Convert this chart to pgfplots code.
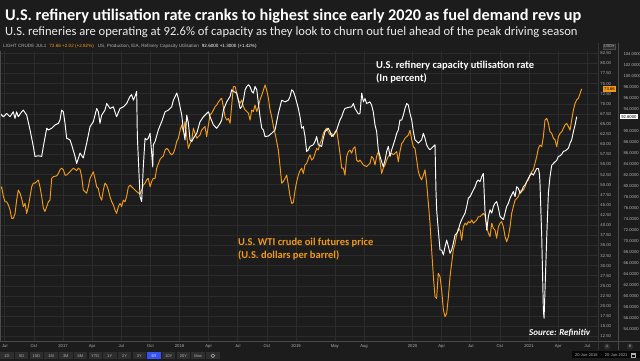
\documentclass[border=0pt]{standalone}
\usepackage{pgfplots}
\pgfplotsset{compat=1.18}
\usepackage{pgfplotstable}
\usepackage{fontspec}
\setmainfont{Carlito}
\newfontfamily\tickfont{Liberation Sans}
\newfontfamily\symfont{DejaVu Sans}
\definecolor{bg}{HTML}{1C1C1C}
\definecolor{gridc}{HTML}{2B2B2B}
\definecolor{oil}{HTML}{F39A1B}
\definecolor{ticktext}{HTML}{B0B0B0}
\definecolor{btn}{HTML}{2E2E2E}
\definecolor{btnblue}{HTML}{3552F2}
\definecolor{sep}{HTML}{4A4A4A}

\pgfplotstableread{
year price
2016.459 48.7
2016.473 49.5
2016.488 47.1
2016.502 45.8
2016.516 45.8
2016.531 45.0
2016.545 43.8
2016.559 41.7
2016.573 41.7
2016.588 42.9
2016.602 46.2
2016.616 48.7
2016.631 47.9
2016.645 46.6
2016.659 44.6
2016.674 45.4
2016.688 42.9
2016.702 44.6
2016.717 47.1
2016.731 49.5
2016.745 50.4
2016.759 50.4
2016.774 50.8
2016.788 51.2
2016.802 49.5
2016.817 47.1
2016.831 44.2
2016.845 43.4
2016.860 44.6
2016.874 45.8
2016.888 46.2
2016.903 51.6
2016.917 52.0
2016.945 52.2
2016.960 52.8
2016.974 53.7
2016.988 54.1
2017.003 53.7
2017.017 52.4
2017.031 52.4
2017.060 53.2
2017.074 53.7
2017.088 54.1
2017.103 53.8
2017.117 53.5
2017.131 54.1
2017.146 53.8
2017.160 52.0
2017.174 48.7
2017.189 48.3
2017.203 47.9
2017.217 49.5
2017.232 51.6
2017.246 52.4
2017.260 53.2
2017.274 51.6
2017.289 49.5
2017.303 49.1
2017.317 47.1
2017.332 46.2
2017.346 48.7
2017.360 50.4
2017.375 49.9
2017.389 48.7
2017.403 47.1
2017.418 45.8
2017.432 45.0
2017.446 43.8
2017.460 42.9
2017.475 44.6
2017.489 45.4
2017.503 44.6
2017.518 46.2
2017.532 45.8
2017.546 47.1
2017.561 49.5
2017.575 49.9
2017.589 49.5
2017.604 49.1
2017.632 48.3
2017.661 47.7
2017.675 48.7
2017.689 49.9
2017.704 50.4
2017.718 51.2
2017.732 51.6
2017.747 49.5
2017.761 50.8
2017.775 51.6
2017.790 51.6
2017.804 54.1
2017.833 56.3
2017.847 56.8
2017.861 57.1
2017.876 58.6
2017.890 59.0
2017.904 58.6
2017.919 57.8
2017.933 57.4
2017.947 57.8
2017.962 59.0
2017.976 60.7
2017.990 61.5
2018.005 63.5
2018.019 64.8
2018.033 63.1
2018.047 65.6
2018.062 61.9
2018.076 59.0
2018.090 60.2
2018.105 61.1
2018.119 64.0
2018.133 62.7
2018.148 61.5
2018.162 61.9
2018.176 62.3
2018.190 63.5
2018.205 64.0
2018.219 64.4
2018.233 61.9
2018.248 64.8
2018.262 67.3
2018.276 67.7
2018.291 68.5
2018.305 69.3
2018.319 69.7
2018.334 70.5
2018.348 71.0
2018.362 71.4
2018.376 69.3
2018.391 66.8
2018.405 66.0
2018.419 66.4
2018.434 65.2
2018.448 69.7
2018.462 74.3
2018.477 74.3
2018.491 72.6
2018.505 71.0
2018.520 70.1
2018.534 71.0
2018.548 69.3
2018.563 68.5
2018.577 68.1
2018.591 67.7
2018.605 66.0
2018.620 68.5
2018.634 68.1
2018.648 69.7
2018.663 68.1
2018.677 69.3
2018.691 71.0
2018.706 72.2
2018.720 73.4
2018.734 74.7
2018.748 73.4
2018.763 71.4
2018.777 68.5
2018.791 66.8
2018.806 64.4
2018.820 62.7
2018.834 60.7
2018.848 58.6
2018.863 54.5
2018.877 50.4
2018.891 50.8
2018.906 51.6
2018.920 52.4
2018.934 49.9
2018.949 47.1
2018.963 45.4
2018.977 45.6
2018.992 48.7
2019.006 50.8
2019.020 52.4
2019.034 53.5
2019.048 54.1
2019.063 52.8
2019.077 54.9
2019.091 55.3
2019.106 56.5
2019.120 57.4
2019.134 56.1
2019.148 56.5
2019.163 57.8
2019.177 59.0
2019.191 58.6
2019.206 60.2
2019.220 61.1
2019.234 62.7
2019.249 63.5
2019.263 64.0
2019.277 63.1
2019.292 62.3
2019.306 62.7
2019.320 61.9
2019.334 63.1
2019.349 63.5
2019.363 60.7
2019.377 57.8
2019.392 54.1
2019.406 54.1
2019.420 52.4
2019.435 57.0
2019.449 58.2
2019.463 58.6
2019.477 57.8
2019.492 59.0
2019.506 59.4
2019.520 56.1
2019.535 55.7
2019.549 56.1
2019.578 54.9
2019.606 54.5
2019.620 54.9
2019.635 55.3
2019.649 57.0
2019.663 56.5
2019.678 54.9
2019.692 57.0
2019.706 58.2
2019.721 55.7
2019.735 52.8
2019.749 54.1
2019.764 54.9
2019.778 56.1
2019.792 57.0
2019.807 57.4
2019.821 57.8
2019.835 57.4
2019.849 57.8
2019.864 58.2
2019.878 55.7
2019.892 58.2
2019.907 60.2
2019.921 60.7
2019.935 61.5
2019.950 61.9
2019.964 62.3
2019.978 63.5
2019.993 61.1
2020.007 59.4
2020.021 59.0
2020.036 56.1
2020.050 53.2
2020.064 52.0
2020.078 51.2
2020.093 52.4
2020.107 53.7
2020.121 50.4
2020.136 45.4
2020.150 40.5
2020.164 33.9
2020.179 27.3
2020.193 22.3
2020.207 21.9
2020.221 28.1
2020.236 27.3
2020.250 24.0
2020.265 19.0
2020.279 17.4
2020.293 18.2
2020.308 22.3
2020.322 27.3
2020.336 30.6
2020.350 33.9
2020.365 35.5
2020.379 37.6
2020.393 39.2
2020.408 38.8
2020.422 36.3
2020.436 39.6
2020.451 40.5
2020.465 40.1
2020.479 40.9
2020.494 40.6
2020.508 41.3
2020.522 40.5
2020.537 40.9
2020.551 41.3
2020.565 42.1
2020.579 42.1
2020.594 42.5
2020.608 42.9
2020.622 42.5
2020.637 39.6
2020.651 38.0
2020.665 37.2
2020.680 40.5
2020.694 39.2
2020.708 38.8
2020.722 36.8
2020.737 39.6
2020.751 40.5
2020.765 40.9
2020.780 39.6
2020.794 37.2
2020.808 35.9
2020.823 37.2
2020.837 39.6
2020.851 42.9
2020.865 44.6
2020.880 46.2
2020.894 46.6
2020.908 47.1
2020.923 48.3
2020.937 48.7
2020.951 48.7
2020.966 49.5
2020.980 50.8
2020.994 51.2
2021.009 52.4
2021.023 53.2
2021.037 53.7
2021.051 55.3
2021.066 57.0
2021.080 59.0
2021.094 59.8
2021.109 59.4
2021.123 61.9
2021.137 66.0
2021.152 66.4
2021.166 65.2
2021.180 63.1
2021.195 62.7
2021.209 61.5
2021.223 61.1
2021.238 59.4
2021.252 61.9
2021.266 62.7
2021.281 63.1
2021.295 64.0
2021.309 64.8
2021.323 65.2
2021.338 64.4
2021.352 63.5
2021.366 66.0
2021.381 68.5
2021.395 70.1
2021.409 71.0
2021.424 71.4
2021.438 72.6
2021.452 73.7
}\oiltable

\pgfplotstableread{
year util
2016.459 93.2
2016.488 92.6
2016.516 93.2
2016.545 92.6
2016.573 93.5
2016.588 92.3
2016.602 93.5
2016.616 92.6
2016.645 93.5
2016.659 93.8
2016.688 92.9
2016.717 90.2
2016.745 87.2
2016.759 85.4
2016.788 85.5
2016.817 85.4
2016.831 87.2
2016.860 90.5
2016.874 90.2
2016.903 90.5
2016.931 91.1
2016.960 91.4
2016.974 92.0
2016.988 93.8
2017.003 93.5
2017.017 91.4
2017.031 88.7
2017.060 88.4
2017.074 87.5
2017.103 85.4
2017.117 84.1
2017.146 86.0
2017.174 85.1
2017.203 87.8
2017.232 90.8
2017.260 91.7
2017.289 94.1
2017.303 93.5
2017.317 91.4
2017.332 92.9
2017.360 93.8
2017.375 95.0
2017.403 94.1
2017.432 94.4
2017.460 92.6
2017.489 94.1
2017.518 94.4
2017.546 95.0
2017.575 96.3
2017.589 96.6
2017.604 95.6
2017.618 96.3
2017.632 97.2
2017.638 89.0
2017.661 78.1
2017.675 77.2
2017.689 83.5
2017.704 88.7
2017.718 88.4
2017.732 88.7
2017.747 89.6
2017.761 86.0
2017.770 83.5
2017.775 87.5
2017.790 88.1
2017.818 90.2
2017.833 91.0
2017.847 91.7
2017.876 93.5
2017.904 93.8
2017.933 94.4
2017.947 95.6
2017.976 96.9
2017.990 95.9
2018.019 92.9
2018.033 90.2
2018.047 88.4
2018.062 92.9
2018.076 91.4
2018.090 88.4
2018.105 88.1
2018.119 88.7
2018.148 89.6
2018.176 91.7
2018.205 92.6
2018.233 93.2
2018.248 93.5
2018.262 92.6
2018.291 91.1
2018.319 90.5
2018.348 91.4
2018.362 92.0
2018.376 93.8
2018.405 95.3
2018.434 96.3
2018.448 97.5
2018.462 97.2
2018.491 96.9
2018.505 95.6
2018.520 94.1
2018.534 94.4
2018.548 95.6
2018.563 97.5
2018.577 98.1
2018.591 98.4
2018.605 98.1
2018.620 97.2
2018.634 96.9
2018.648 98.1
2018.663 97.5
2018.677 95.0
2018.691 92.6
2018.706 90.5
2018.720 90.2
2018.734 89.0
2018.763 89.1
2018.791 89.6
2018.820 90.2
2018.848 93.2
2018.877 95.6
2018.906 95.3
2018.934 95.6
2018.949 96.3
2018.963 97.5
2018.977 97.2
2018.992 96.3
2019.020 94.1
2019.034 92.6
2019.048 90.5
2019.063 90.8
2019.077 89.0
2019.091 86.3
2019.106 86.6
2019.120 87.2
2019.148 87.5
2019.163 88.1
2019.177 89.0
2019.191 87.5
2019.220 87.2
2019.234 88.7
2019.249 89.9
2019.277 90.5
2019.292 89.9
2019.306 89.0
2019.334 89.6
2019.349 90.2
2019.363 91.1
2019.377 92.0
2019.392 92.6
2019.406 93.5
2019.420 94.1
2019.449 94.3
2019.477 94.4
2019.492 95.0
2019.506 94.1
2019.535 93.1
2019.549 93.2
2019.564 96.9
2019.578 95.3
2019.592 95.9
2019.606 95.0
2019.635 95.3
2019.649 94.7
2019.663 93.5
2019.678 91.1
2019.692 89.9
2019.706 86.6
2019.721 85.4
2019.735 84.4
2019.749 83.5
2019.764 84.7
2019.778 86.3
2019.792 87.2
2019.807 85.4
2019.821 86.6
2019.835 87.5
2019.849 88.4
2019.864 89.6
2019.878 90.2
2019.892 92.0
2019.907 92.0
2019.921 92.9
2019.935 94.1
2019.950 95.0
2019.964 94.7
2019.978 93.2
2019.993 92.0
2020.007 89.9
2020.021 88.4
2020.036 88.1
2020.050 87.8
2020.064 88.1
2020.078 88.4
2020.093 89.6
2020.107 88.7
2020.121 87.5
2020.136 86.9
2020.150 86.6
2020.164 86.9
2020.179 87.2
2020.193 87.5
2020.201 79.3
2020.207 75.7
2020.221 72.0
2020.236 68.4
2020.250 68.4
2020.265 67.5
2020.279 69.0
2020.293 70.2
2020.308 69.0
2020.322 67.8
2020.336 68.4
2020.350 69.6
2020.365 71.1
2020.379 71.4
2020.393 72.0
2020.408 73.2
2020.422 73.9
2020.436 74.5
2020.451 75.1
2020.465 76.3
2020.479 77.8
2020.494 78.1
2020.508 78.7
2020.522 79.3
2020.537 79.9
2020.551 80.8
2020.565 81.1
2020.579 80.8
2020.594 81.7
2020.608 82.3
2020.622 75.4
2020.637 72.0
2020.651 74.5
2020.665 75.7
2020.680 75.1
2020.694 76.3
2020.708 76.9
2020.722 77.2
2020.737 76.0
2020.751 74.5
2020.765 74.2
2020.780 73.9
2020.794 75.1
2020.808 76.3
2020.823 76.9
2020.837 77.8
2020.851 78.4
2020.865 79.0
2020.880 78.1
2020.894 79.9
2020.908 79.6
2020.923 78.7
2020.937 79.0
2020.951 79.9
2020.966 80.2
2020.980 80.8
2020.994 81.4
2021.009 82.0
2021.023 82.3
2021.037 82.0
2021.051 82.6
2021.066 83.2
2021.080 83.2
2021.089 82.3
2021.094 80.5
2021.109 70.8
2021.123 57.5
2021.129 56.0
2021.137 61.1
2021.152 70.8
2021.166 78.7
2021.180 81.7
2021.195 83.8
2021.209 84.1
2021.223 84.4
2021.238 84.7
2021.252 85.4
2021.266 85.5
2021.281 85.8
2021.295 86.3
2021.309 86.4
2021.323 86.6
2021.338 86.9
2021.352 87.8
2021.366 88.4
2021.381 89.9
2021.395 91.1
2021.409 92.6
}\utiltable

\pgfplotsset{
  basex/.style={
    at={(0pt,20pt)}, anchor=south west, scale only axis,
    width=598pt, height=290pt,
    xmin=2016.459, xmax=2021.592,
    axis line style={draw=none},
    major tick length=0pt,
    scaled y ticks=false,
    /pgf/number format/assume math mode=true,
    tick label style={font=\tickfont\fontsize{4.2}{5}\selectfont, text=ticktext},
  }
}

\begin{document}
\begin{tikzpicture}[x=1pt,y=1pt]
\fill[bg] (0pt,0pt) rectangle (640pt,361pt);
\useasboundingbox (0pt,0pt) rectangle (640pt,361pt);

% price axis (scale drawn in the first right-hand column)
\begin{axis}[basex,
  ymin=11.38, ymax=83.07,
  xtick={2016.5,2016.75,2017,2017.25,2017.5,2017.75,2018,2018.25,2018.5,2018.75,2019,2019.3333,2019.5833,2020,2020.25,2020.5,2020.75,2021,2021.25,2021.5},
  xticklabels={Jul,Oct,2017,Apr,Jul,Oct,2018,Apr,Jul,Oct,2019,May,Aug,2020,Apr,Jul,Oct,2021,Apr,Jul},
  ytick distance=2.5,
  yticklabel pos=right,
  grid=major, grid style={draw=gridc, line width=0.6pt},
  xticklabel style={anchor=center, yshift=-5.5pt},
  yticklabel style={anchor=east, xshift=16.5pt,
    /pgf/number format/fixed, /pgf/number format/fixed zerofill, /pgf/number format/precision=2},
]
\addplot[oil, line width=0.95pt, line join=round] table[x=year,y=price] {\oiltable};
\end{axis}

% utilisation axis
\begin{axis}[basex,
  ymin=51.87, ymax=104.54,
  xtick=\empty,
  ytick={54,56,58,60,62,64,66,68,70,72,74,76,78,80,82,84,86,88,90,94,96,98,100,102,104},
  yticklabel pos=right,
  yticklabel style={anchor=west, xshift=22pt,
    /pgf/number format/fixed, /pgf/number format/fixed zerofill, /pgf/number format/precision=4},
]
\addplot[white, line width=0.95pt, line join=round] table[x=year,y=util] {\utiltable};
\end{axis}

% frame lines
\draw[sep, line width=0.6pt] (0pt,20pt) -- (640pt,20pt);
\draw[sep, line width=0.6pt] (0.5pt,20pt) -- (0.5pt,310pt);
\draw[gridc!70!sep, line width=0.6pt] (598.5pt,11pt) -- (598.5pt,318pt);
\draw[sep, line width=0.6pt] (618.5pt,11pt) -- (618.5pt,318pt);

% value boxes
\node[fill=oil, text=black, font=\tickfont\fontsize{4.2}{5}\selectfont, inner sep=1.1pt, minimum height=6pt, anchor=east] at (616pt,272pt) {73.66};
\node[fill=white, text=black, font=\tickfont\fontsize{4.2}{5}\selectfont, inner sep=1.1pt, minimum height=5.5pt, anchor=west] at (620pt,244.3pt) {92.6000};

% titles
\node[anchor=base west, inner sep=0, text=white, font=\fontsize{16.3}{18}\selectfont\bfseries] at (5pt,340.3pt) {U.S. refinery utilisation rate cranks to highest since early 2020 as fuel demand revs up};
\node[anchor=base west, inner sep=0, text=white!92!black, font=\fontsize{12.6}{14}\selectfont] at (5pt,325.3pt) {U.S. refineries are operating at 92.6\% of capacity as they look to churn out fuel ahead of the peak driving season};

% info line
\node[anchor=base west, inner sep=0, font=\tickfont\fontsize{4.6}{5}\selectfont] at (3pt,313.3pt) {\textcolor{ticktext}{LIGHT CRUDE JUL1}\hspace{3pt}\textcolor{oil}{73.66 +2.02 (+2.82\%)}\hspace{4pt}\textcolor{ticktext}{US, Production, EIA, Refinery Capacity Utilisation}\hspace{3pt}\textcolor{white}{92.6000 +1.3000 (+1.42\%)}};
\node[draw=sep, fill=btn, text=ticktext, font=\tickfont\fontsize{4}{5}\selectfont, inner sep=1pt] at (609pt,314.5pt) {USD{\symfont\fontsize{3.5}{4}\selectfont ▾}};

% annotations
\node[anchor=base west, inner sep=0, text=white, font=\fontsize{10.5}{12}\selectfont\bfseries] at (376pt,292pt) {U.S. refinery capacity utilisation rate};
\node[anchor=base west, inner sep=0, text=white, font=\fontsize{10.5}{12}\selectfont\bfseries] at (376pt,279pt) {(In percent)};
\node[anchor=base west, inner sep=0, text=oil, font=\fontsize{10.5}{12}\selectfont\bfseries] at (238pt,115.5pt) {U.S. WTI crude oil futures price};
\node[anchor=base west, inner sep=0, text=oil, font=\fontsize{10.5}{12}\selectfont\bfseries] at (238pt,102.5pt) {(U.S. dollars per barrel)};
\node[anchor=base west, inner sep=0, text=white, font=\fontsize{9}{10}\selectfont\bfseries\itshape] at (529pt,25pt) {Source: Refinitiv};

% A / B markers
\foreach \cx/\l in {607/A,630/B}{
  \fill[btn] (\cx pt,14.5pt) circle (3.1pt);
  \node[text=ticktext, font=\tickfont\fontsize{3.6}{4}\selectfont, inner sep=0] at (\cx pt,14.5pt) {\l};
}

% range buttons
\foreach \lab [count=\i from 0] in {1D,5D,10D,1M,3M,6M,YTD,1Y,2Y,3Y,5Y,10Y,20Y,Max}{
  \pgfmathsetmacro\cx{7+14.7*\i}
  \ifnum\i=10
    \fill[btnblue] (\cx pt-6.7pt,1.8pt) rectangle (\cx pt+6.7pt,8.6pt);
    \node[text=white, font=\tickfont\fontsize{4}{5}\selectfont, inner sep=0] at (\cx pt,5.2pt) {\lab};
  \else
    \fill[btn] (\cx pt-6.7pt,1.8pt) rectangle (\cx pt+6.7pt,8.6pt);
    \node[text=ticktext, font=\tickfont\fontsize{4}{5}\selectfont, inner sep=0] at (\cx pt,5.2pt) {\lab};
  \fi
}
\fill[btn] (206.2pt,1.8pt) rectangle (219.6pt,8.6pt);
\draw[ticktext, line width=0.5pt] (212.9pt,5.2pt) circle (1.9pt);

% date range
\fill[black!70!bg] (572pt,2.5pt) rectangle (640pt,10.3pt);
\node[text=ticktext, font=\tickfont\fontsize{4}{5}\selectfont, inner sep=0, anchor=base west] at (575pt,4.8pt) {20-Jun-2016\hspace{3pt}-\hspace{3pt}20-Jun-2021};
\draw[ticktext, line width=0.4pt] (631pt,4pt) rectangle (635pt,8pt);
\draw[ticktext, line width=0.4pt] (631pt,7pt) -- (635pt,7pt);
\end{tikzpicture}
\end{document}
